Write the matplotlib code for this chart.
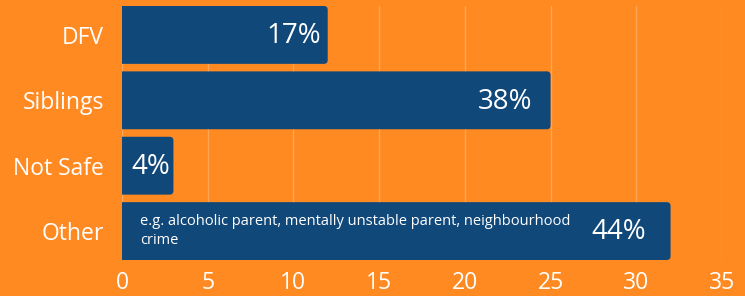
import numpy as np
import matplotlib.pyplot as plt
from matplotlib.patches import FancyBboxPatch

categories = ['DFV', 'Siblings', 'Not Safe', 'Other']
counts = [12, 25, 3, 32]
pct_labels = ['17%', '38%', '4%', '44%']
other_note = 'e.g. alcoholic parent, mentally unstable parent, neighbourhood\ncrime'
xticks = [0, 5, 10, 15, 20, 25, 30, 35]

bg = '#ff8a22'
bar_col = '#11487a'
grid_col = '#ffa553'

plt.rcParams['font.family'] = ['Open Sans', 'DejaVu Sans']

fig = plt.figure(figsize=(7.45, 2.96), dpi=100, facecolor=bg)
ax = fig.add_axes([122 / 745, 36 / 296, 600 / 745, 254 / 296])
ax.set_facecolor(bg)

y = np.arange(len(categories))
h = 0.885
bars = ax.barh(y, counts, height=h, color=bar_col, zorder=2)

# swap plain rectangles for ones with slightly rounded right corners
for b in bars:
    x0, y0 = b.get_x(), b.get_y()
    w, hh = b.get_width(), b.get_height()
    b.set_visible(False)
    p = FancyBboxPatch((x0 - 0.5, y0), w + 0.5, hh,
                       boxstyle='round,pad=0,rounding_size=0.22',
                       mutation_aspect=0.27, fc=bar_col, ec='none', zorder=2)
    ax.add_patch(p)

ax.set_xlim(0, 35)
ax.set_ylim(len(categories) - 1 + h / 2, -h / 2)
ax.set_xticks(xticks)
ax.set_yticks(y)
ax.set_yticklabels(categories)
ax.tick_params(axis='both', length=0, colors='white', labelsize=16.5)
ax.tick_params(axis='y', pad=13)
ax.tick_params(axis='x', pad=8)
ax.grid(axis='x', color=grid_col, lw=1, zorder=0)
ax.set_axisbelow(True)
for s in ax.spines.values():
    s.set_visible(False)

# percentage labels inside bars (offsets in points from bar end)
offsets = [-5, -13, None, -18]
for i, (v, lab) in enumerate(zip(counts, pct_labels)):
    if offsets[i] is None:
        ax.annotate(lab, (0, i), xytext=(7, -1), textcoords='offset points',
                    ha='left', va='center', color='white', fontsize=20,
                    zorder=3)
    else:
        ax.annotate(lab, (v, i), xytext=(offsets[i], -1), textcoords='offset points',
                    ha='right', va='center', color='white', fontsize=20,
                    zorder=3)

ax.annotate(other_note, (0, 3), xytext=(13, 0), textcoords='offset points',
            ha='left', va='center', color='white', fontsize=10.5, linespacing=1.3,
            zorder=3)

fig.savefig('out.png', dpi=100, facecolor=bg)
